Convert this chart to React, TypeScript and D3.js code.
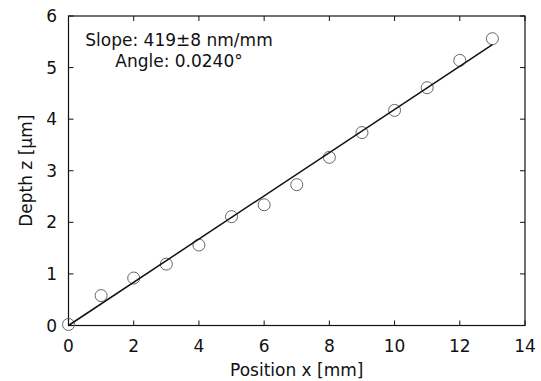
import React from "react";
import * as d3 from "d3";

const positions = [0, 1, 2, 3, 4, 5, 6, 7, 8, 9, 10, 11, 12, 13];
const depths = [0.02, 0.58, 0.92, 1.19, 1.56, 2.11, 2.34, 2.73, 3.26, 3.74, 4.17, 4.61, 5.14, 5.56];
const fitX = [0, 13];
const slope = 0.419;
const xTicks = [0, 2, 4, 6, 8, 10, 12, 14];
const yTicks = [0, 1, 2, 3, 4, 5, 6];
const annotation = ["Slope: 419\u00b18 nm/mm", "Angle: 0.0240\u00b0"];

export default function App() {
  const W = 541, H = 381;
  const left = 68.5, right = 525, top = 16, bottom = 325.5;
  const x = d3.scaleLinear().domain([0, 14]).range([left, right]);
  const y = d3.scaleLinear().domain([0, 6]).range([bottom, top]);
  const font = "'DejaVu Sans', Arial, Helvetica, sans-serif";
  const fs = 17;
  const tl = 5;
  const line = d3.line<number>().x((d) => x(d)).y((d) => y(slope * d));
  return (
    <svg width={W} height={H} style={{ position: "absolute", left: 0, top: 0, background: "#fff" }}
      fontFamily={font}>
      <rect x={left} y={top} width={right - left} height={bottom - top} fill="none" stroke="#111" strokeWidth={1.2} />
      {xTicks.map((t) => (
        <g key={"x" + t}>
          <line x1={x(t)} x2={x(t)} y1={bottom} y2={bottom - tl} stroke="#111" />
          <line x1={x(t)} x2={x(t)} y1={top} y2={top + tl} stroke="#111" />
          <text x={x(t)} y={352} fontSize={fs} textAnchor="middle" fill="#111">{t}</text>
        </g>
      ))}
      {yTicks.map((t) => (
        <g key={"y" + t}>
          <line x1={left} x2={left + tl} y1={y(t)} y2={y(t)} stroke="#111" />
          <line x1={right} x2={right - tl} y1={y(t)} y2={y(t)} stroke="#111" />
          <text x={57} y={y(t) + 6} fontSize={fs} textAnchor="end" fill="#111">{t}</text>
        </g>
      ))}
      <text x={(left + right) / 2} y={376} fontSize={fs} textAnchor="middle" fill="#111">Position x [mm]</text>
      <text transform={`translate(32, ${(top + bottom) / 2}) rotate(-90)`} fontSize={fs} textAnchor="middle" fill="#111">Depth z [µm]</text>
      {positions.map((p, i) => (
        <circle key={"c" + i} cx={x(p)} cy={y(depths[i])} r={6} fill="none" stroke="#666" strokeWidth={1} />
      ))}
      <path d={line(fitX) || ""} fill="none" stroke="#111" strokeWidth={1.5} />
      <text x={179} y={46} fontSize={fs} textAnchor="middle" fill="#111">{annotation[0]}</text>
      <text x={179} y={67} fontSize={fs} textAnchor="middle" fill="#111">{annotation[1]}</text>
    </svg>
  );
}
